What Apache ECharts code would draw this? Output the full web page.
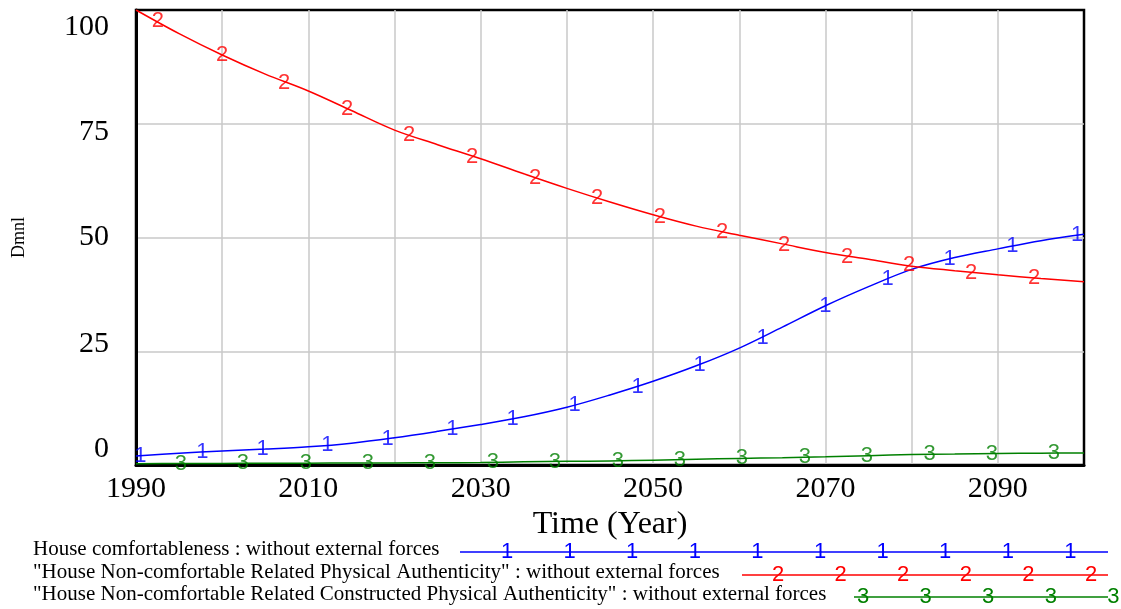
<!DOCTYPE html>
<html>
<head>
<meta charset="utf-8">
<script src="https://cdn.jsdelivr.net/npm/echarts@6/dist/echarts.min.js"></script>
<style>
  html, body { margin: 0; padding: 0; background: #ffffff; }
  #chart { width: 1121px; height: 609px; }
</style>
</head>
<body>
<div id="chart"></div>
<script>
// Simulation output, sampled every 5 years
const years = [1990, 1995, 2000, 2005, 2010, 2015, 2020, 2025, 2030, 2035, 2040, 2045,
               2050, 2055, 2060, 2065, 2070, 2075, 2080, 2085, 2090, 2095, 2100];
const comfort = [2.0, 2.6, 3.1, 3.5, 4.0, 4.8, 6.0, 7.4, 8.9, 10.6, 12.7, 15.4,
                 18.4, 21.8, 25.7, 30.3, 35.0, 39.2, 43.0, 45.6, 47.5, 49.3, 50.7];
const physicalAuth = [100, 94.8, 90.1, 85.9, 82.2, 77.9, 73.6, 70.4, 67.3, 64.0, 60.8, 57.8,
                      55.0, 52.5, 50.5, 48.6, 46.7, 45.2, 43.7, 42.7, 41.8, 41.0, 40.3];
const constructedAuth = [0.3, 0.32, 0.35, 0.38, 0.4, 0.43, 0.45, 0.5, 0.55, 0.7, 0.8, 0.9,
                         1.05, 1.25, 1.45, 1.6, 1.8, 2.05, 2.3, 2.4, 2.55, 2.6, 2.65];

// Series identification markers along each curve
const comfortMarkYears = [1990.5, 1997.7, 2004.7, 2012.2, 2019.2, 2026.7, 2033.7, 2040.9,
                          2048.2, 2055.4, 2062.7, 2070.0, 2077.2, 2084.4, 2091.7, 2099.2];
const comfortMarkVals = [2.0, 2.9, 3.5, 4.3, 5.8, 7.9, 10.1, 13.2,
                         17.2, 22.1, 28.0, 35.0, 40.9, 45.3, 48.1, 50.5];
const physicalMarkYears = [1992.55, 2000.0, 2007.2, 2014.5, 2021.7, 2029.0, 2036.3, 2043.5,
                           2050.8, 2058.0, 2065.2, 2072.5, 2079.7, 2086.9, 2094.2];
const physicalMarkVals = [97.6, 90.2, 84.0, 78.2, 72.6, 67.7, 63.0, 58.6,
                          54.6, 51.3, 48.4, 45.8, 43.9, 42.3, 41.1];
const constructedMarkYears = [1995.2, 2002.4, 2009.7, 2016.9, 2024.1, 2031.4, 2038.6, 2045.9,
                              2053.1, 2060.3, 2067.6, 2074.8, 2082.1, 2089.3, 2096.5];
const constructedMarkVals = [0.3, 0.35, 0.4, 0.45, 0.5, 0.6, 0.75, 0.9,
                             1.15, 1.45, 1.7, 2.05, 2.35, 2.5, 2.6];

// Axis tick labels
const xTickLabels = ['1990', '2010', '2030', '2050', '2070', '2090'];
const yTickLabels = ['0', '25', '50', '75', '100'];

const legendNames = [
  'House comfortableness : without external forces',
  '"House Non-comfortable Related Physical Authenticity" : without external forces',
  '"House Non-comfortable Related Constructed Physical Authenticity" : without external forces'
];

const BLUE = '#0000ff', RED = '#ff0000', GREEN = '#008000';
const SERIF = '"Liberation Serif", "Times New Roman", serif';
const SANS = '"Liberation Sans", Arial, sans-serif';

function pairs(xs, ys) { return xs.map((x, i) => [x, ys[i]]); }

function curve(name, xs, ys, color) {
  return {
    name: name, type: 'line', data: pairs(xs, ys),
    showSymbol: false, smooth: 0.35,
    lineStyle: { color: color, width: 1.5 }, z: 3, silent: true
  };
}

function markers(digit, xs, ys, color) {
  return {
    type: 'scatter', data: pairs(xs, ys), symbolSize: 1, clip: false,
    itemStyle: { color: 'rgba(0,0,0,0)' }, z: 4, silent: true,
    label: {
      show: true, position: 'inside', formatter: digit,
      color: color, fontFamily: SANS, fontSize: 22
    }
  };
}

// Vensim-style legend rows: name, then a rule carrying the series digit
const legendRows = [
  { y: 552, lineStart: 460, firstMark: 507, digit: '1', color: BLUE },
  { y: 575, lineStart: 742, firstMark: 778, digit: '2', color: RED },
  { y: 597, lineStart: 854, firstMark: 863, digit: '3', color: GREEN }
];
const legendLineEnd = 1108, legendMarkStep = 62.6;
const graphics = [];
legendRows.forEach((row, i) => {
  graphics.push({
    type: 'text', left: 33, top: row.y - 13,
    style: { text: legendNames[i], font: '21px ' + SERIF, fill: '#000' }
  });
  graphics.push({
    type: 'line', shape: { x1: row.lineStart, y1: row.y, x2: legendLineEnd, y2: row.y },
    style: { stroke: row.color, lineWidth: 1.3 }
  });
  for (let x = row.firstMark; x <= legendLineEnd + 6; x += legendMarkStep) {
    graphics.push({
      type: 'text', x: x, y: row.y,
      style: { text: row.digit, font: '22px ' + SANS, fill: row.color,
               align: 'center', verticalAlign: 'middle' }
    });
  }
});

// Vensim spreads the value labels slightly inside the axis range
const yLabelRich = {
  p100: { padding: [34, 0, 0, 0], fontFamily: SERIF, fontSize: 30, color: '#000' },
  p75:  { padding: [16, 0, 0, 0], fontFamily: SERIF, fontSize: 30, color: '#000' },
  p50:  { padding: [0, 0, 0, 0],  fontFamily: SERIF, fontSize: 30, color: '#000' },
  p25:  { padding: [0, 0, 14, 0], fontFamily: SERIF, fontSize: 30, color: '#000' },
  p0:   { padding: [0, 0, 32, 0], fontFamily: SERIF, fontSize: 30, color: '#000' }
};

const chart = echarts.init(document.getElementById('chart'), null, { renderer: 'canvas' });
chart.setOption({
  animation: false,
  backgroundColor: '#ffffff',
  grid: { left: 136, right: 37, top: 10, bottom: 144, show: true,
          outerBoundsMode: 'none', containLabel: false,
          borderColor: '#000', borderWidth: 2.5, backgroundColor: 'transparent' },
  xAxis: {
    type: 'value', min: 1990, max: 2100, interval: 10,
    name: 'Time (Year)', nameLocation: 'middle', nameGap: 37,
    nameTextStyle: { fontFamily: SERIF, fontSize: 32, color: '#000' },
    axisLine: { show: true, lineStyle: { color: '#000', width: 3 } },
    axisTick: { show: false },
    axisLabel: {
      margin: 9, fontFamily: SERIF, fontSize: 30, color: '#000',
      showMinLabel: true, showMaxLabel: true,
      formatter: v => (xTickLabels.indexOf(String(v)) >= 0 ? String(v) : '')
    },
    splitLine: { show: true, showMinLine: false, showMaxLine: false,
                 lineStyle: { color: '#c8c8c8', width: 1.5 } }
  },
  yAxis: {
    type: 'value', min: 0, max: 100, interval: 25,
    name: 'Dmnl', nameLocation: 'middle', nameGap: 108, nameRotate: 90,
    nameTextStyle: { fontFamily: SERIF, fontSize: 18, color: '#000' },
    axisLine: { show: true, lineStyle: { color: '#000', width: 3 } },
    axisTick: { show: false },
    axisLabel: {
      margin: 27, fontFamily: SERIF, fontSize: 30, color: '#000',
      formatter: v => {
        const s = String(v);
        return yTickLabels.indexOf(s) >= 0 ? '{p' + s + '|' + s + '}' : '';
      },
      rich: yLabelRich
    },
    splitLine: { show: true, showMinLine: false, showMaxLine: false,
                 lineStyle: { color: '#c8c8c8', width: 1.5 } }
  },
  series: [
    curve('House comfortableness', years, comfort, BLUE),
    curve('Physical Authenticity', years, physicalAuth, RED),
    curve('Constructed Physical Authenticity', years, constructedAuth, GREEN),
    markers('1', comfortMarkYears, comfortMarkVals, BLUE),
    markers('2', physicalMarkYears, physicalMarkVals, RED),
    markers('3', constructedMarkYears, constructedMarkVals, GREEN)
  ],
  graphic: graphics
});
</script>
</body>
</html>
